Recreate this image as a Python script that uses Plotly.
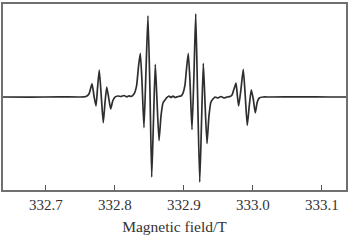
import plotly.graph_objects as go

field = [332.6377, 332.6768, 332.7203, 332.7493, 332.7580, 332.7623, 332.7667, 332.7696,
         332.7725, 332.7749, 332.7772, 332.7801, 332.7830, 332.7855, 332.7880, 332.7909,
         332.7938, 332.7967, 332.7996, 332.8043, 332.8087, 332.8130, 332.8174, 332.8203,
         332.8232, 332.8275, 332.8312, 332.8341, 332.8367, 332.8391, 332.8420, 332.8449,
         332.8478, 332.8507, 332.8532, 332.8558, 332.8584, 332.8609, 332.8638, 332.8667,
         332.8696, 332.8725, 332.8754, 332.8783, 332.8812, 332.8841, 332.8870, 332.8913,
         332.8957, 332.8986, 332.9014, 332.9036, 332.9062, 332.9087, 332.9116, 332.9145,
         332.9170, 332.9196, 332.9228, 332.9254, 332.9280, 332.9304, 332.9333, 332.9362,
         332.9391, 332.9420, 332.9449, 332.9493, 332.9536, 332.9580, 332.9623, 332.9667,
         332.9696, 332.9725, 332.9754, 332.9774, 332.9793, 332.9826, 332.9859, 332.9888,
         332.9917, 332.9946, 332.9975, 333.0004, 333.0033, 333.0062, 333.0091, 333.0145,
         333.0246, 333.0681, 333.1116, 333.1348]

signal = [-0.5, -0.7, -0.3, -0.5, 0, 2.5, 12.8, 0.5,
          -9.5, 10.5, 26.8, 0.5, -26.5, -6.5, 9.5, -1.5,
          -12.5, -4.5, -0.8, 0.5, 0, 1, -0.3, 0.7,
          0, 2.5, 10.5, 30.5, 43.5, 15.5, -31.5, 25.5,
          81.5, 5.5, -81.5, -24.5, 32.5, -4.5, -44.5, -19.5,
          -6.5, -3.5, -1, 0.5, -1, 0.5, -1, 0,
          0.5, 3.5, 11.5, 27.5, 43.5, 15.5, -33.5, 23.5,
          83.5, 5.5, -86.5, -26.5, 33.5, -4.5, -47.5, -19.5,
          -5.5, -2.5, -0.5, -1.5, 0, -1.5, -0.5, 0,
          1.5, 7.5, 13.5, 0.5, -9.5, 7.5, 27.5, 0.5,
          -29.2, -9.5, 6.8, -2.5, -16.5, -5.5, -1.5, -0.5,
          -0.5, -0.3, -0.5, -0.5]

tick_vals = [332.7, 332.8, 332.9, 333.0, 333.1]
tick_text = ["332.7", "332.8", "332.9", "333.0", "333.1"]

fig = go.Figure(go.Scatter(
    x=field, y=signal, mode="lines",
    line=dict(color="#2e2e2e", width=1.7, shape="spline", smoothing=0.5),
    hoverinfo="skip", showlegend=False))

fam = "Liberation Serif"
fig.update_layout(
    width=350, height=240,
    margin=dict(l=3, r=4, t=2, b=50),
    paper_bgcolor="white", plot_bgcolor="white",
    font=dict(family=fam, color="#333333"),
    xaxis=dict(range=[332.6377, 333.1348], tickvals=tick_vals, ticktext=tick_text,
               ticks="inside", ticklen=5, tickwidth=1.2, tickcolor="#555555",
               showline=True, linecolor="#707070", linewidth=1.6, mirror=True,
               showgrid=False, zeroline=False,
               tickfont=dict(size=15, family=fam, color="#333333"),
               title=dict(text="Magnetic field/T",
                          font=dict(size=15.5, family=fam, color="#333333"), standoff=9)),
    yaxis=dict(range=[-94.5, 93.5], showticklabels=False, ticks="",
               showline=True, linecolor="#707070", linewidth=1.6, mirror=True,
               showgrid=False, zeroline=False),
)

fig.write_html("out.html")
